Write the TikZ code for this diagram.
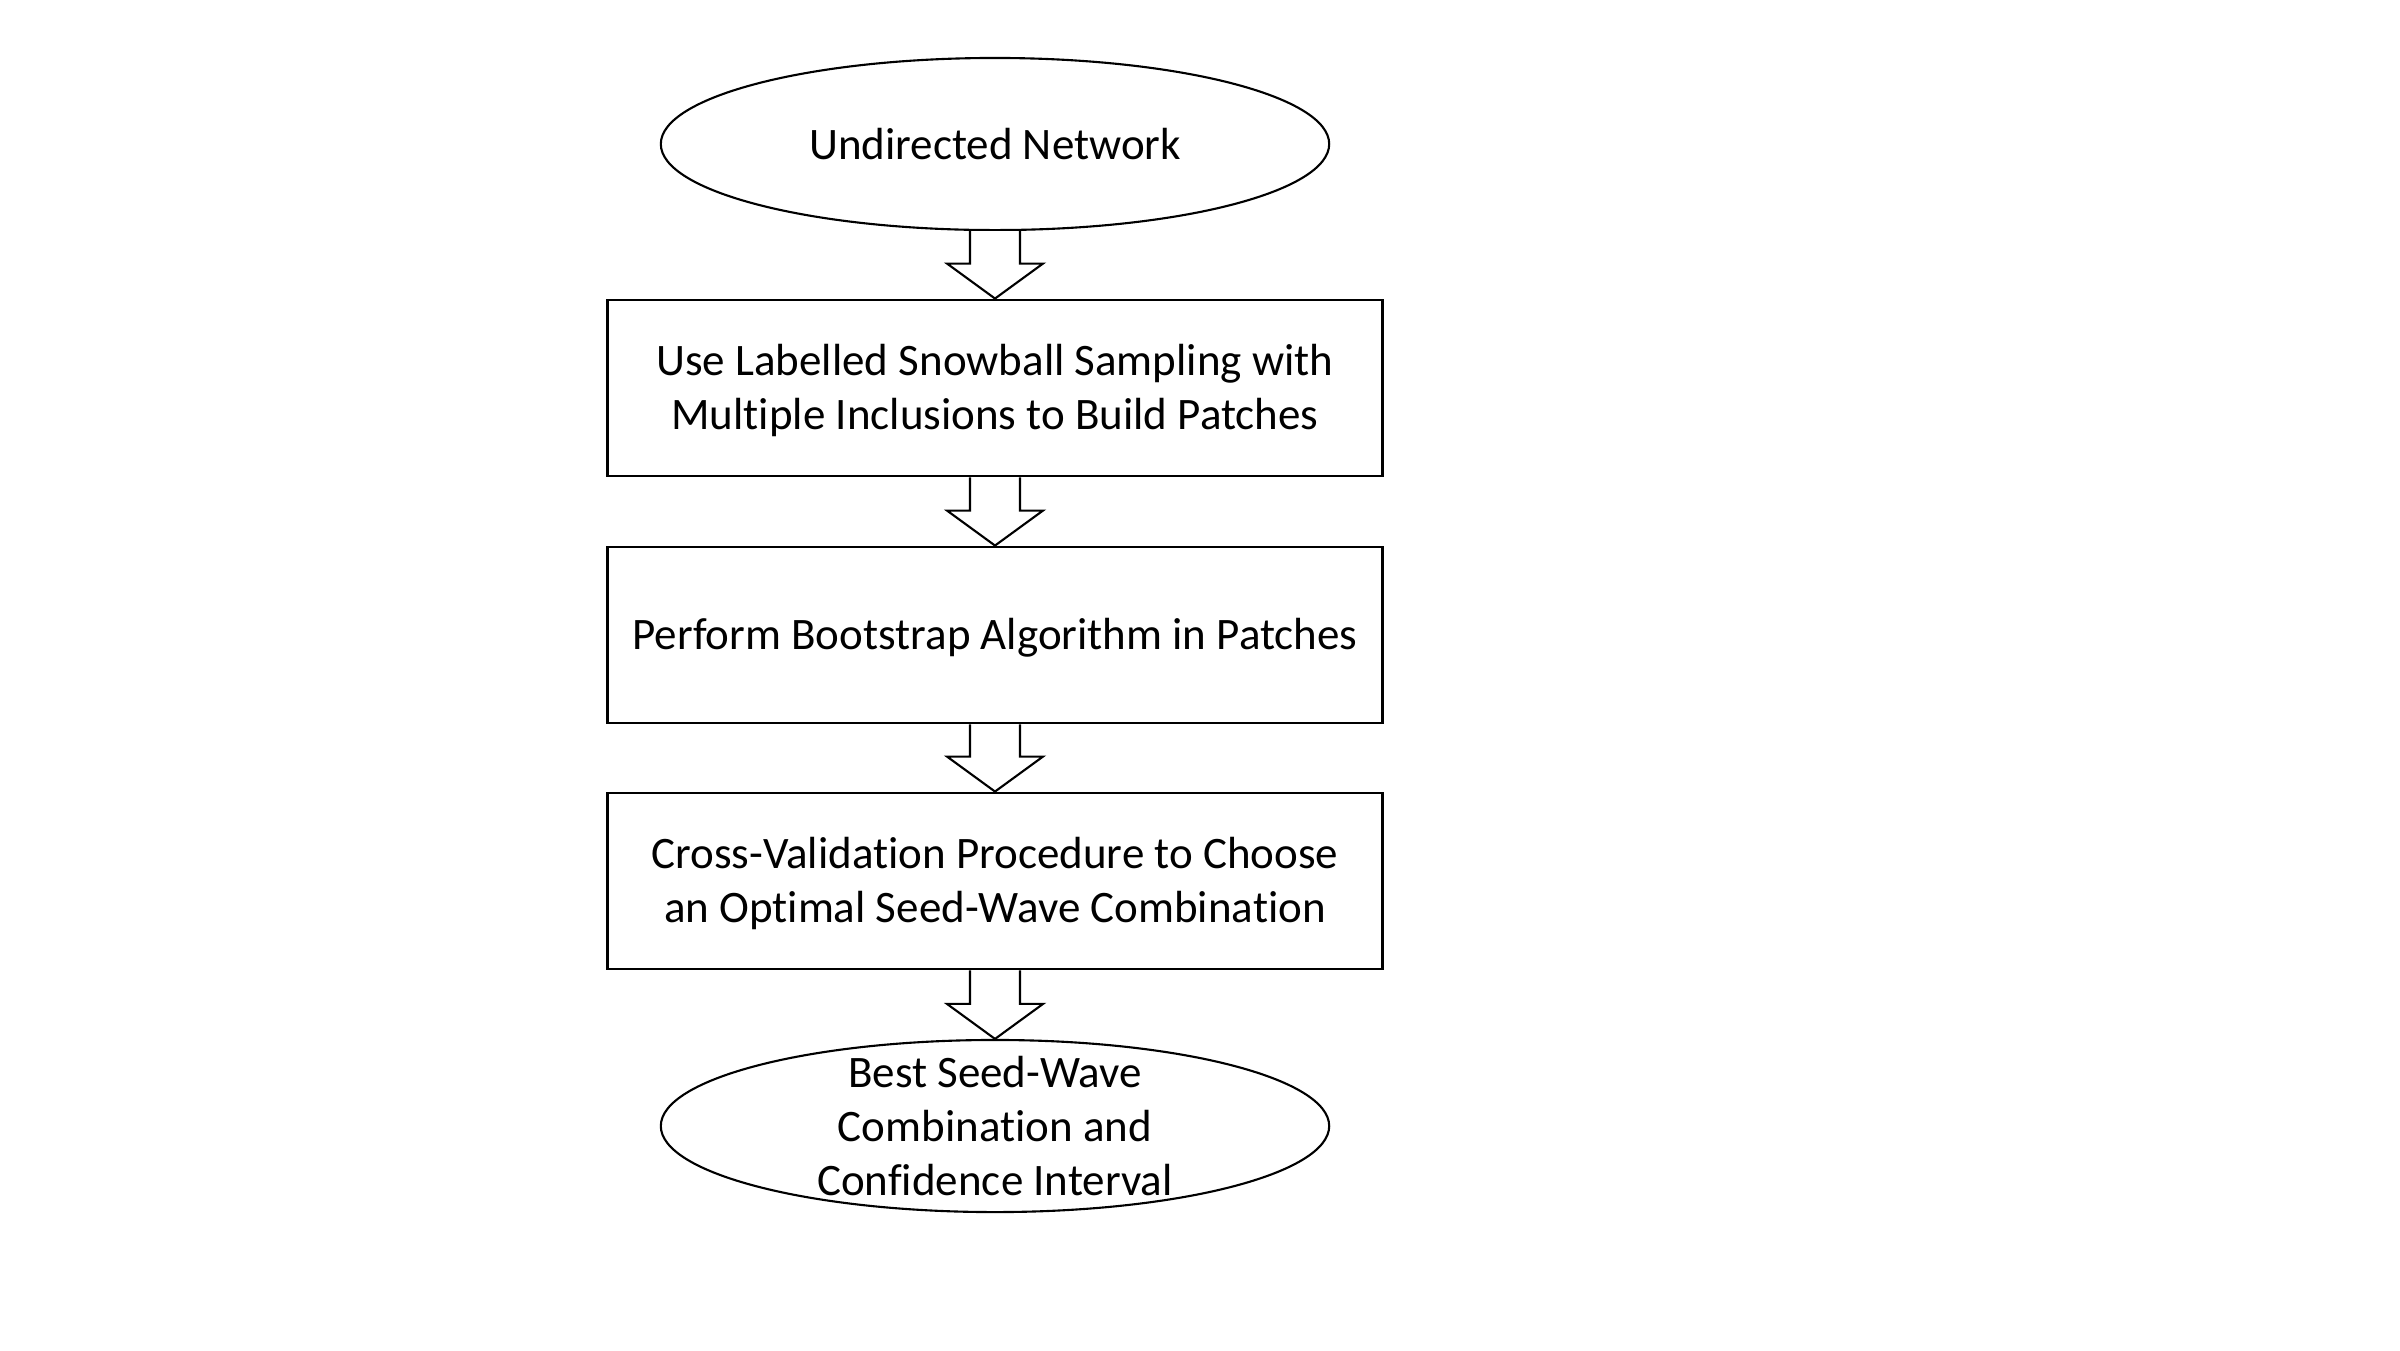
\documentclass[tikz,border=0pt]{standalone}
\usepackage{fontspec}
\setmainfont{Carlito}[Ligatures=NoCommon]
\usetikzlibrary{shapes.geometric,calc}
\begin{document}
\begin{tikzpicture}[x=0.01cm,y=-0.01cm,
  txt/.style={font=\fontsize{12.8}{15.4}\selectfont,align=center,inner sep=0pt},
  oval/.style={txt,ellipse,draw,line width=0.6pt,minimum width=6.68cm,minimum height=1.72cm},
  stepbox/.style={txt,rectangle,draw,line width=0.8pt,minimum width=7.75cm,minimum height=1.76cm,text depth=0.5pt},
  barrow/.style={draw,fill=white,line width=0.6pt,line join=miter}]
\useasboundingbox (0,0) rectangle (2400,1350);
\node[oval] (e1) at (995,144) {Undirected Network};
\node[stepbox] (b1) at (995,388) {Use Labelled Snowball Sampling with\\Multiple Inclusions to Build Patches};
\node[stepbox] (b2) at (995,635) {Perform Bootstrap Algorithm in Patches};
\node[stepbox] (b3) at (995,881) {Cross-Validation Procedure to Choose\\an Optimal Seed-Wave Combination};
\node[oval] (e2) at (995,1126) {};
\node[txt] (t2) at (e2.center) {Best Seed-Wave\\Combination and\\Confidence Interval};
\foreach \a/\b in {e1/b1,b1/b2,b2/b3,b3/e2}{
  \path[barrow] ($(\a.south)+(-25,0)$) -- ($(\b.north)+(-25,-35)$) -- ($(\b.north)+(-48,-35)$) -- (\b.north)
    -- ($(\b.north)+(48,-35)$) -- ($(\b.north)+(25,-35)$) -- ($(\a.south)+(25,0)$);
}
\end{tikzpicture}
\end{document}
